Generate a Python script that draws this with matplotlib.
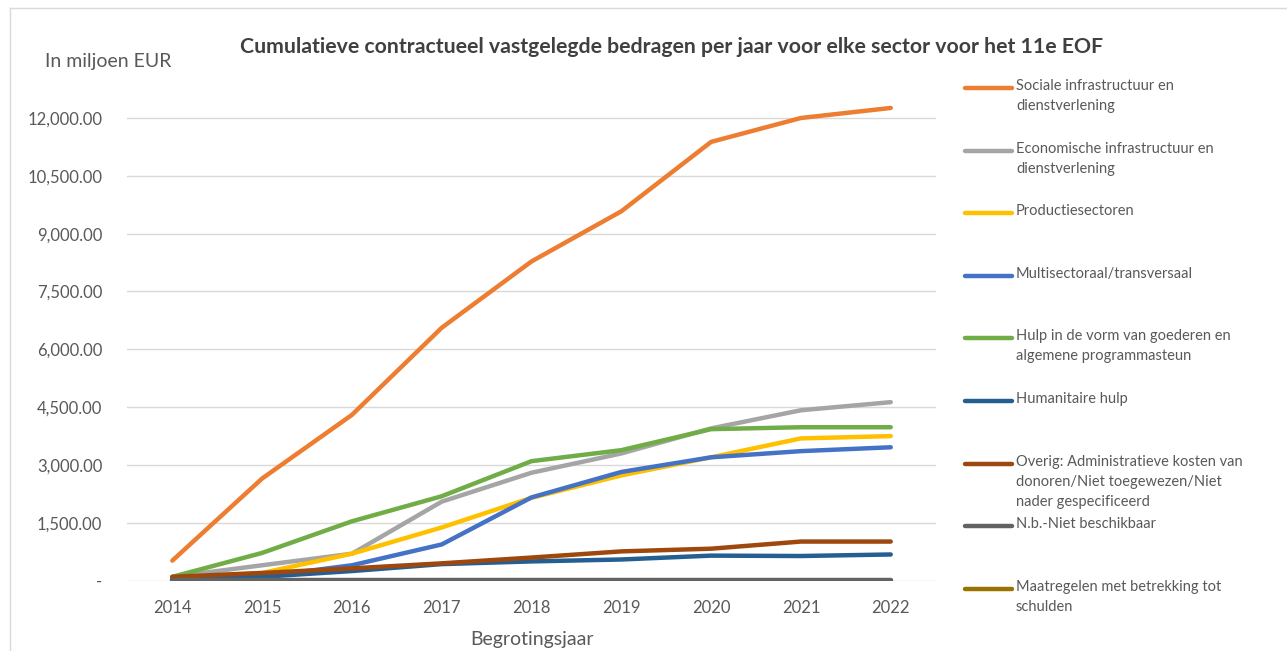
import matplotlib.pyplot as plt
from matplotlib.lines import Line2D
from matplotlib.ticker import FuncFormatter

plt.rcParams['font.family'] = ['Lato', 'DejaVu Sans']

years = [2014, 2015, 2016, 2017, 2018, 2019, 2020, 2021, 2022]

sociaal = [520, 2650, 4300, 6560, 8280, 9580, 11380, 12000, 12260]
economisch = [100, 400, 700, 2050, 2800, 3300, 3950, 4420, 4630]
productie = [80, 200, 700, 1380, 2150, 2730, 3200, 3690, 3750]
multisector = [50, 100, 400, 940, 2160, 2820, 3200, 3360, 3460]
goederen = [100, 720, 1540, 2190, 3100, 3385, 3930, 3980, 3980]
humanitair = [50, 100, 250, 430, 500, 550, 650, 640, 680]
overig = [100, 200, 320, 450, 600, 760, 830, 1015, 1015]
niet_beschikbaar = [15, 15, 15, 15, 15, 15, 15, 15, 15]
schulden = [0, 0, 0, 0, 0, 0, 0, 0, 0]

labels = [
    'Sociale infrastructuur en\ndienstverlening',
    'Economische infrastructuur en\ndienstverlening',
    'Productiesectoren',
    'Multisectoraal/transversaal',
    'Hulp in de vorm van goederen en\nalgemene programmasteun',
    'Humanitaire hulp',
    'Overig: Administratieve kosten van\ndonoren/Niet toegewezen/Niet\nnader gespecificeerd',
    'N.b.-Niet beschikbaar',
    'Maatregelen met betrekking tot\nschulden',
]
series = [sociaal, economisch, productie, multisector, goederen,
          humanitair, overig, niet_beschikbaar, schulden]
colors = ['#ED7D31', '#A5A5A5', '#FFC000', '#4472C4', '#70AD47',
          '#255E91', '#9E480E', '#636363', '#997300']

fig = plt.figure(figsize=(12.87, 6.51), dpi=100)
ax = fig.add_axes([0.099, 0.108, 0.628, 0.77])

for i, (vals, col) in enumerate(zip(series, colors)):
    z = 1 if i == 8 else 2 + i
    ax.plot(years, vals, color=col, linewidth=3.2, solid_capstyle='round',
            solid_joinstyle='round', zorder=z)

ax.set_xlim(2013.5, 2022.5)
ax.set_ylim(0, 13000)
ax.set_xticks(years)
ax.set_yticks([0, 1500, 3000, 4500, 6000, 7500, 9000, 10500, 12000])
ax.yaxis.set_major_formatter(FuncFormatter(
    lambda v, p: '-' if v == 0 else f'{v:,.2f}'))
ax.grid(axis='y', color='#D9D9D9', linewidth=1)
ax.set_axisbelow(True)
for s in ax.spines.values():
    s.set_visible(False)
ax.tick_params(length=0, labelsize=12, colors='#595959', pad=14)
ax.tick_params(axis='y', pad=18)

fig.text(0.522, 0.928, 'Cumulatieve contractueel vastgelegde bedragen per jaar voor elke sector voor het 11e EOF',
         ha='center', va='center', fontsize=15.3, fontweight='bold', color='#404040')
fig.text(0.035, 0.905, 'In miljoen EUR', ha='left', va='center', fontsize=14, color='#595959')
fig.text(0.413, 0.017, 'Begrotingsjaar', ha='center', va='center', fontsize=14, color='#595959')

# legend drawn by hand to follow the uneven slots of the original
top = 1 - 88 / 651
step = 62.6 / 651
for i, (lab, col) in enumerate(zip(labels, colors)):
    y = top - i * step
    fig.add_artist(Line2D([965 / 1287, 1012 / 1287], [y, y], color=col,
                          linewidth=3.2, solid_capstyle='round'))
    fig.text(1016 / 1287, y + 9 / 651, lab, ha='left', va='top',
             fontsize=10.5, color='#595959', linespacing=1.55)

# outer border of the chart area
fig.add_artist(Line2D([10 / 1287, 10 / 1287], [0, 1 - 8 / 651], color='#D9D9D9', linewidth=1))
fig.add_artist(Line2D([10 / 1287, 1], [1 - 8 / 651, 1 - 8 / 651], color='#D9D9D9', linewidth=1))

fig.savefig('out.png', dpi=100)
